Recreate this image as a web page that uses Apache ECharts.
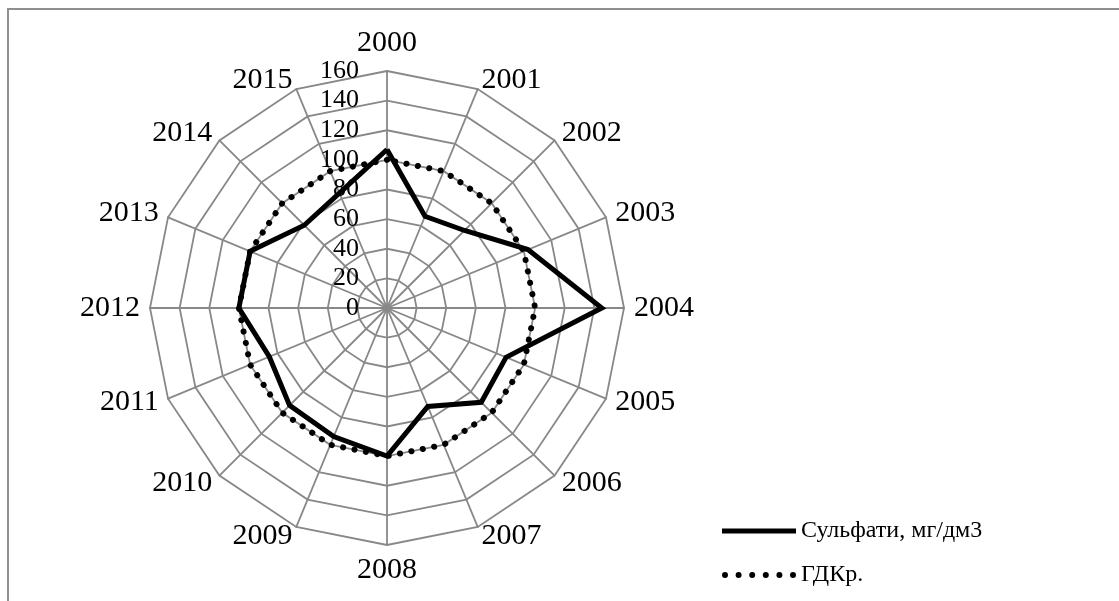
<!DOCTYPE html>
<html>
<head>
<meta charset="utf-8">
<style>
  html, body { margin: 0; padding: 0; background: #fff; }
  #chart { width: 1119px; height: 601px; }
</style>
<script src="https://cdn.jsdelivr.net/npm/echarts@6/dist/echarts.min.js"></script>
</head>
<body>
<div id="chart"></div>
<script>
// Years around the radar, clockwise from the top
var years = ['2000', '2001', '2002', '2003', '2004', '2005', '2006', '2007',
             '2008', '2009', '2010', '2011', '2012', '2013', '2014', '2015'];
// Sulphate concentration, mg/dm3
var sulphates = [107, 67, 74, 103, 145, 87, 90, 72, 100, 94, 93, 86, 100, 100, 79, 84];
// Maximum permissible concentration
var limitValues = [100, 100, 100, 100, 100, 100, 100, 100, 100, 100, 100, 100, 100, 100, 100, 100];
var seriesNames = ['Сульфати, мг/дм3', 'ГДКр.'];
var scaleMax = 160;
var scaleStep = 20;

var FONT = '"Liberation Serif", "Times New Roman", serif';
var GRID = '#888888';

// The radar lays its axes out counter-clockwise; keep the first year on top
// and reverse the rest so the years run clockwise.
function clockwise(arr) {
  return [arr[0]].concat(arr.slice(1).reverse());
}

var indicators = clockwise(years).map(function (y, i) {
  var ind = { name: y, min: 0, max: scaleMax };
  if (i === 0) {
    ind.axisLabel = { show: true };
  }
  return ind;
});

// legend icons: a solid bar and a row of six dots
var solidIcon = 'path://M0,0H74V5H0Z';
var dotIcon = 'path://' + [3, 16.6, 30.2, 43.8, 57.4, 71].map(function (c) {
  return 'M' + (c - 3) + ',3a3,3 0 1,0 6,0a3,3 0 1,0 -6,0Z';
}).join('');

var chart = echarts.init(document.getElementById('chart'), null, { renderer: 'canvas' });
chart.setOption({
  backgroundColor: '#ffffff',
  animation: false,
  graphic: [{
    type: 'rect',
    shape: { x: 8, y: 9, width: 1200, height: 700 },
    style: { fill: 'none', stroke: '#8f8f8f', lineWidth: 2 },
    silent: true
  }],
  legend: [{
    left: 717,
    top: 514,
    orient: 'vertical',
    itemWidth: 74,
    itemHeight: 5,
    data: [{ name: seriesNames[0], icon: solidIcon, itemStyle: { color: '#000', borderWidth: 0 } }],
    textStyle: { fontFamily: FONT, fontSize: 24, color: '#000' },
    selectedMode: false
  }, {
    left: 717,
    top: 558,
    orient: 'vertical',
    itemWidth: 74,
    itemHeight: 6,
    data: [{ name: seriesNames[1], icon: dotIcon, itemStyle: { color: '#000', borderWidth: 0 } }],
    textStyle: { fontFamily: FONT, fontSize: 24, color: '#000' },
    selectedMode: false
  }],
  radar: {
    center: [387, 308],
    radius: 237,
    startAngle: 90,
    shape: 'polygon',
    splitNumber: scaleMax / scaleStep,
    indicator: indicators,
    axisName: { color: '#000', fontFamily: FONT, fontSize: 30 },
    nameGap: 10,
    axisLine: { lineStyle: { color: GRID, width: 1.8 } },
    splitLine: { lineStyle: { color: GRID, width: 1.8 } },
    splitArea: { show: false },
    axisTick: { show: false },
    axisLabel: { show: false, color: '#000', fontFamily: FONT, fontSize: 26, margin: 28 }
  },
  series: [{
    type: 'radar',
    symbol: 'none',
    silent: true,
    data: [{
      name: seriesNames[0],
      value: clockwise(sulphates),
      lineStyle: { color: '#000', width: 5, join: 'miter' },
      itemStyle: { color: '#000' }
    }, {
      name: seriesNames[1],
      value: clockwise(limitValues),
      lineStyle: { color: '#000', width: 6, type: [0.1, 11.5], cap: 'round' },
      itemStyle: { color: '#000' }
    }]
  }]
});
</script>
</body>
</html>
